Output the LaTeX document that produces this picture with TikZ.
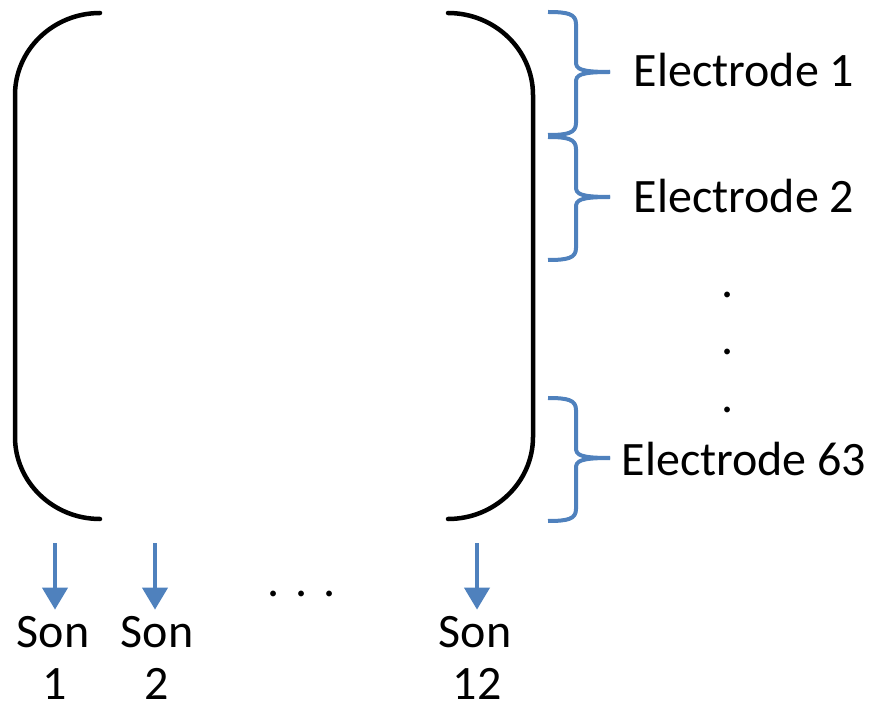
\documentclass[tikz,border=0pt]{standalone}
\usepackage{fontspec}
\setmainfont{Carlito}
\usetikzlibrary{arrows.meta}
\definecolor{brblue}{RGB}{79,129,189}
\begin{document}
\begin{tikzpicture}[x=1pt,y=-1pt,
  paren/.style={line width=4.5pt, line cap=round},
  bracestroke/.style={brblue, line width=4pt},
  lbl/.style={font=\fontsize{48}{57}\selectfont, inner sep=0pt, anchor=base},
  dn/.style={brblue, line width=4pt, -{Triangle[width=25pt,length=22pt]}, shorten >=6pt},
  rbrace/.pic={
    \draw[bracestroke] (0,0) .. controls (20,0) and (28,2) .. (28,12) -- (28,50)
      .. controls (28,57) and (32,60) .. (62,60);
    \draw[bracestroke] (62,60) .. controls (32,60) and (28,63) .. (28,70) -- (28,111)
      .. controls (28,121) and (20,123) .. (0,123);
  }]
\useasboundingbox (0,0) rectangle (870,708);
% big parentheses
\draw[paren] (100,13) .. controls (53,13) and (15,50) .. (15,95) -- (15,437)
  .. controls (15,482) and (53,519) .. (100,519);
\draw[paren] (448,13) .. controls (495,13) and (533,50) .. (533,95) -- (533,437)
  .. controls (533,482) and (495,519) .. (448,519);
% braces
\pic at (548,12) {rbrace};
\pic at (548,137) {rbrace};
\pic at (548,398) {rbrace};
% electrode labels
\node[lbl] (e1) at (744,87) {Electrode 1};
\node[lbl] (e2) at (744,213) {Electrode 2};
\node[lbl] (e63) at (744,475) {Electrode 63};
\node[lbl] (v1) at (728,298) {.};
\node[lbl] (v2) at (728,355) {.};
\node[lbl] (v3) at (728,412) {.};
% sons
\node[lbl] (s1) at (53,647) {Son};
\node[lbl] (s2) at (157,647) {Son};
\node[lbl] (s12) at (475,647) {Son};
\node[lbl] (n1) at (55,699) {1};
\node[lbl] (n2) at (157,699) {2};
\node[lbl] (n12) at (477,699) {12};
\node[lbl] (hd) at (302,596) {.\,\,.\,\,.};
\coordinate (a1) at (55,543);
\coordinate (a2) at (155,543);
\coordinate (a12) at (477,543);
\draw[dn] (a1) -- (a1 |- s1.north);
\draw[dn] (a2) -- (a2 |- s2.north);
\draw[dn] (a12) -- (a12 |- s12.north);
\end{tikzpicture}
\end{document}
